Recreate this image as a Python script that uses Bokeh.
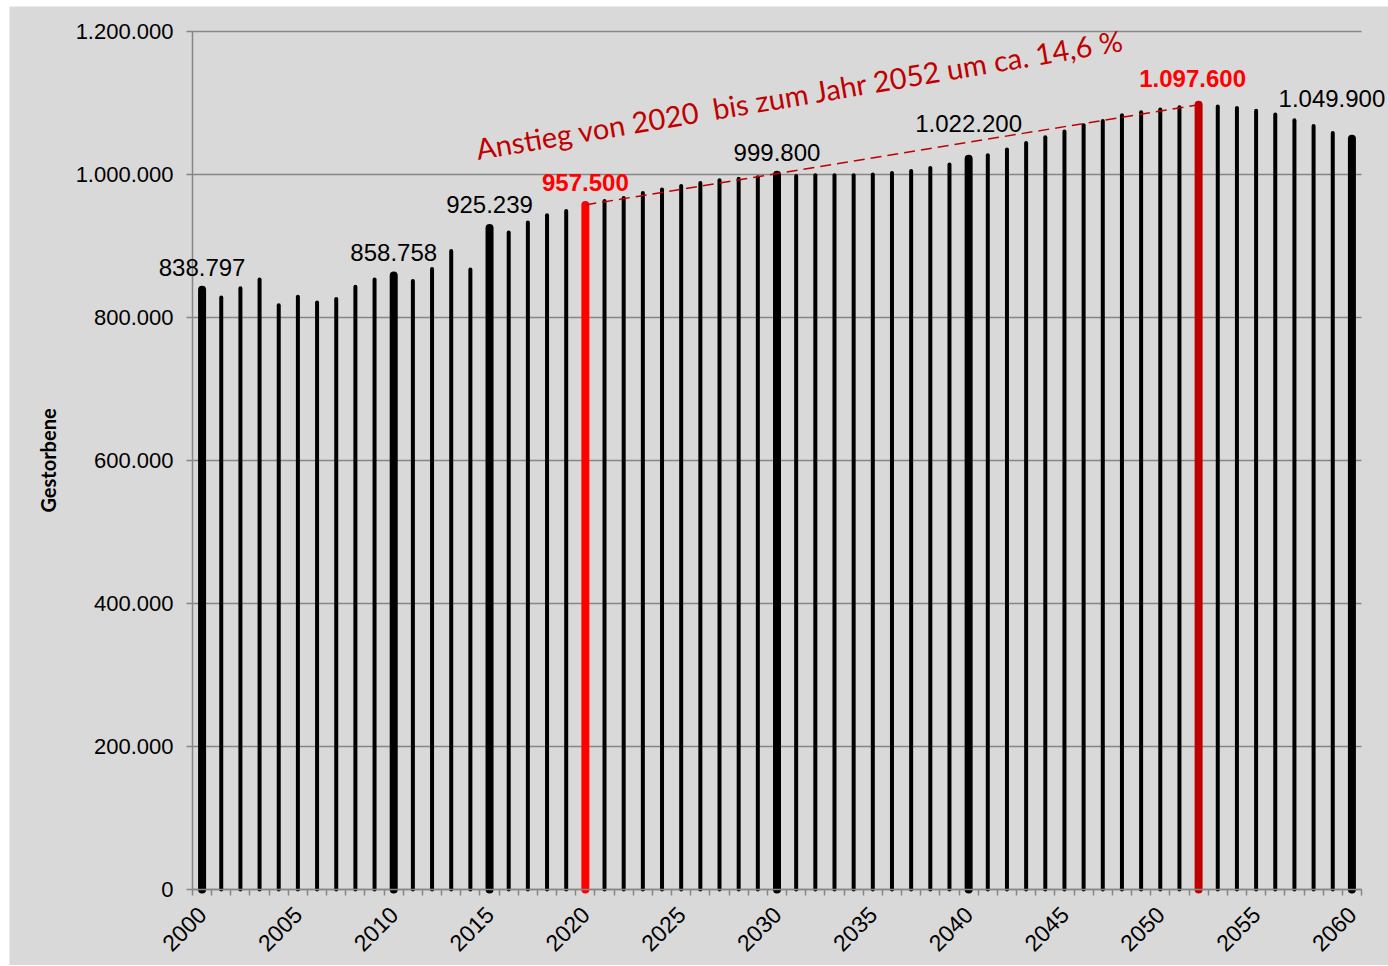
import math

from bokeh.embed import file_html
from bokeh.models import ColumnDataSource, FixedTicker, Label, Range1d
from bokeh.plotting import figure
from bokeh.resources import INLINE

# Deaths per year in Germany (registered up to 2019, projected afterwards)
years = list(range(2000, 2061))
deaths = [
    838797, 828000, 841000, 853000, 817000, 829000, 821000, 826000, 843000, 853000,  # 2000-2009
    858758, 851000, 868000, 893000, 867000, 925239, 919000, 933000, 943000, 949000,  # 2010-2019
    957500, 963000, 967000, 974000, 979000, 984000, 988000, 992000, 994000, 996000,  # 2020-2029
    999800, 998000, 999000, 999000, 999000, 1000000, 1002000, 1005000, 1009000, 1014000,  # 2030-2039
    1022200, 1027000, 1035000, 1044000, 1052000, 1060000, 1069000, 1075000, 1083000, 1087000,  # 2040-2049
    1091000, 1094000, 1097600, 1095000, 1093000, 1089000, 1084000, 1076000, 1068000, 1058000,  # 2050-2059
    1049900,  # 2060
]

# Years whose values are written above the bar
labelled_years = [2000, 2010, 2015, 2020, 2030, 2040, 2052, 2060]
labelled_texts = ["838.797", "858.758", "925.239", "957.500", "999.800",
                  "1.022.200", "1.097.600", "1.049.900"]

y_ticks = [0, 200000, 400000, 600000, 800000, 1000000, 1200000]
y_tick_labels = ["0", "200.000", "400.000", "600.000", "800.000", "1.000.000", "1.200.000"]
x_ticks = list(range(2000, 2061, 5))

start_year, end_year = 2020, 2052
annotation = "Anstieg von 2020 \u00a0bis zum Jahr 2052 um ca. 14,6 %"

GRAY_BG = "#d9d9d9"
AXIS_GRAY = "#868686"
DARK_RED = "#c00000"
RED = "#ff0000"

# Category band of the chart
x_lo, x_hi = years[0] - 0.5, years[-1] + 0.5
y_top = y_ticks[-1]

# The drawing area fills the whole canvas; axes are pinned to the band's
# edges, leaving room around it for tick labels, value labels and the note.
W, H = 1379, 959
band_left, band_right, band_top, band_bottom = 183, 1352, 25, 883
yr_per_px = (x_hi - x_lo) / (band_right - band_left)
val_per_px = y_top / (band_bottom - band_top)

p = figure(
    width=W, height=H,
    margin=(6, 0, 1, 9),
    x_range=Range1d(x_lo - band_left * yr_per_px, x_hi + (W - band_right) * yr_per_px),
    y_range=Range1d(-(H - band_bottom) * val_per_px, y_top + band_top * val_per_px),
    output_backend="svg",
    toolbar_location=None,
    min_border=0,
    background_fill_color=GRAY_BG,
    border_fill_color=GRAY_BG,
    outline_line_color=None,
)

# Horizontal grid lines across the category band
n = len(y_ticks)
p.segment(x0=[x_lo] * n, x1=[x_hi] * n, y0=y_ticks, y1=y_ticks,
          line_color=AXIS_GRAY, line_width=1.5)

# Bars as round-capped strokes from zero up to each value
thick = {2000, 2010, 2015, 2020, 2030, 2040, 2052, 2060}
colors = [RED if y == 2020 else DARK_RED if y == 2052 else "black" for y in years]
widths = [8 if y in thick else 4 for y in years]
src = ColumnDataSource(dict(x=years, top=deaths, zero=[0] * len(years),
                            color=colors, lw=widths))
p.segment(x0="x", y0="zero", x1="x", y1="top", source=src,
          line_color="color", line_width="lw", line_cap="round")

# Dashed trend line between the 2020 and 2052 values
i0, i1 = years.index(start_year), years.index(end_year)
p.line([years[i0], years[i1]], [deaths[i0], deaths[i1]],
       line_color=DARK_RED, line_width=1.5, line_dash="11 6")

# Value labels above selected bars
x_off = {2052: -6, 2060: -20}
y_off = {2000: 22, 2010: 23, 2015: 23, 2020: 22, 2030: 22,
         2040: 35, 2052: 26, 2060: 40}
highlight = {2020, 2052}
for yr, txt in zip(labelled_years, labelled_texts):
    bold = yr in highlight
    p.add_layout(Label(
        x=yr, y=deaths[years.index(yr)], text=txt,
        x_offset=x_off.get(yr, 0), y_offset=y_off.get(yr, 0),
        text_color=RED if bold else "black",
        text_font_style="bold" if bold else "normal",
        text_font="Liberation Sans", text_font_size="24px",
        text_align="center", text_baseline="alphabetic",
    ))

p.add_layout(Label(
    x=2014.3, y=1036000, text=annotation,
    angle=9.6, angle_units="deg",
    text_color=DARK_RED, text_font="Lato", text_font_size="29px",
    text_align="left", text_baseline="alphabetic",
))

# Y axis, pinned to the left edge of the category band
p.yaxis.fixed_location = x_lo
p.yaxis.bounds = (0, y_top)
p.yaxis.ticker = FixedTicker(ticks=y_ticks)
p.yaxis.major_label_overrides = {t: s for t, s in zip(y_ticks, y_tick_labels)}
p.yaxis.axis_label = "Gestorbene"
p.yaxis.axis_label_text_font = "Lato"
p.yaxis.axis_label_text_font_style = "bold"
p.yaxis.axis_label_text_font_size = "20px"
p.yaxis.axis_label_text_color = "black"
p.yaxis.axis_label_standoff = 13
p.yaxis.major_label_standoff = 13
p.yaxis.major_tick_out = 6
p.yaxis.major_tick_in = 0

# X axis at zero: labels every five years, ticks between every category
p.xaxis.fixed_location = 0
p.xaxis.bounds = (x_lo, x_hi)
p.xaxis.ticker = FixedTicker(ticks=x_ticks,
                             minor_ticks=[x_lo + i for i in range(62)])
p.xaxis.major_label_orientation = math.pi / 4
p.xaxis.major_tick_out = 0
p.xaxis.major_tick_in = 0
p.xaxis.minor_tick_out = 6
p.xaxis.minor_tick_in = 0
p.xaxis.major_label_standoff = 15

for ax in (p.xaxis, p.yaxis):
    ax.axis_line_color = AXIS_GRAY
    ax.axis_line_width = 1.5
    ax.major_tick_line_color = AXIS_GRAY
    ax.minor_tick_line_color = AXIS_GRAY
    ax.major_tick_line_width = 1.5
    ax.minor_tick_line_width = 1.5
    ax.major_label_text_font = "Liberation Sans"
    ax.major_label_text_color = "black"
p.yaxis.major_label_text_font_size = "22px"
p.xaxis.major_label_text_font_size = "23px"
p.yaxis.minor_tick_line_color = None

p.xgrid.grid_line_color = None
p.ygrid.grid_line_color = None

open("out.html", "w").write(file_html(p, INLINE))
